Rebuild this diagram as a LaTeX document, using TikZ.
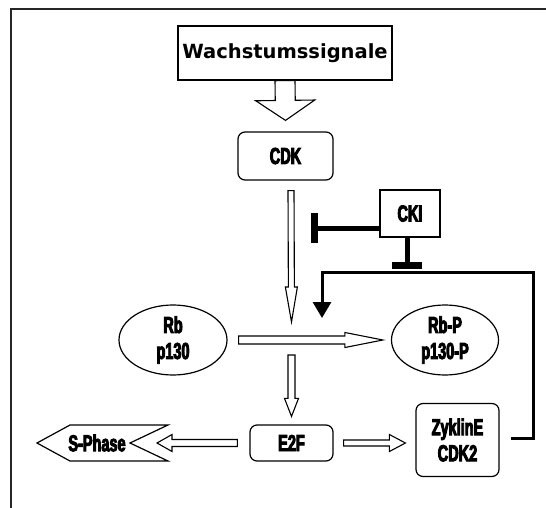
\documentclass[tikz,border=0pt]{standalone}
\usepackage{fontspec}
\usepackage{tikz}
\usetikzlibrary{calc}
\usetikzlibrary{arrows.meta,shapes}
\usetikzlibrary{positioning}
\newfontfamily\wfont{DejaVu Sans Bold}
\newfontfamily\cfont{Liberation Sans Bold}[FakeStretch=0.63,FakeBold=4]
% hollow block arrow: start, end, half shaft, half head, head length
\newcommand{\hollowarrow}[5]{%
  \draw[hollow] let \p1=(#1), \p2=(#2), \n1={atan2(\y2-\y1,\x2-\x1)}, \n2={veclen(\x2-\x1,\y2-\y1)} in
    [shift={(\p1)},rotate=\n1] (0pt,-#3bp) -- (\n2-#5bp,-#3bp) -- (\n2-#5bp,-#4bp) -- (\n2,0pt)
    -- (\n2-#5bp,#4bp) -- (\n2-#5bp,#3bp) -- (0pt,#3bp) -- cycle;}

\begin{document}
\begin{tikzpicture}[x=1bp,y=-1bp,
    box/.style={draw,line width=1.2bp,inner sep=0pt},
    rbox/.style={box,rounded corners=7bp},
    blob/.style={draw,ellipse,line width=1.2bp,inner sep=0pt},
    hollow/.style={draw,fill=white,line width=1.1bp},
    inhibit/.style={line width=5bp,-{Bar[width=30bp,line width=7bp]}},
    feedback/.style={line width=3bp,-{Triangle[width=18bp,length=16bp]}},
    every node/.style={font=\cfont\fontsize{23bp}{26bp}\selectfont,align=center}]
  \useasboundingbox (0,0) rectangle (546,508);
  \draw[line width=1.6bp,black!85] (11,520) |- (560,9);

  \node[box,minimum width=214bp,minimum height=54bp,font=\wfont\fontsize{19.5bp}{22bp}\selectfont] (signals) at (285,53) {Wachstumssignale};
  \node[rbox,minimum width=95bp,minimum height=48bp] (cdk) at (285.5,156) {CDK};
  \node[box,minimum width=60bp,minimum height=47bp] (cki) at (410,213.5) {CKI};
  \node[blob,minimum width=108bp,minimum height=70bp] (rb) at (173,340) {Rb\\p130};
  \node[blob,minimum width=107bp,minimum height=70bp] (rbp) at (445,340) {Rb-P\\p130-P};
  \node[rbox,minimum width=83bp,minimum height=36bp] (e2f) at (291.5,443) {E2F};
  \node[rbox,minimum width=83bp,minimum height=73bp] (zykline) at (457.5,440) {ZyklinE\\CDK2};
  \node (sphase) at (97,443) {S-Phase};
  \draw[line width=1.2bp] ($(sphase)+(-60,0)$) -- ($(sphase)+(-27,-18)$) -- ($(sphase)+(71,-18)$)
    -- ($(sphase)+(33,0)$) -- ($(sphase)+(71,18)$) -- ($(sphase)+(-27,18)$) -- cycle;

  \coordinate (mid) at (291.5,340);
  \coordinate (fbtop) at (533,272);
  \coordinate (fbtip) at ($(mid)+(30.5,-22)$);

  \hollowarrow{signals.south}{$(cdk.north)+(0,-11)$}{10}{29.5}{20}
  \hollowarrow{$(cdk.south)+(5.5,10)$}{$(mid)+(0,-18)$}{3}{6}{35}
  \hollowarrow{$(rb.east)+(11,0)$}{$(rbp.west)+(-8,0)$}{4}{7.5}{38}
  \hollowarrow{$(mid)+(0,15)$}{$(e2f.north)+(0,-8)$}{3.5}{7}{18}
  \hollowarrow{$(e2f.east)+(10,0)$}{$(zykline.west |- e2f.east)+(-10,0)$}{3}{8.5}{16}
  \hollowarrow{$(e2f.west)+(-12,0)$}{$(sphase)+(60,0)$}{3.5}{8.5}{15}

  \draw[inhibit] ($(cki.west)+(0,14.5)$) -- ($(cki.west)+(-68,14.5)$);
  \draw[inhibit] ($(cki.south)+(-3,0)$) -- ($(cki.south)+(-3,31)$);
  \draw[feedback] ($(zykline.east)+(11,-2)$) -| (fbtop) -| (fbtip);
\end{tikzpicture}
\end{document}
